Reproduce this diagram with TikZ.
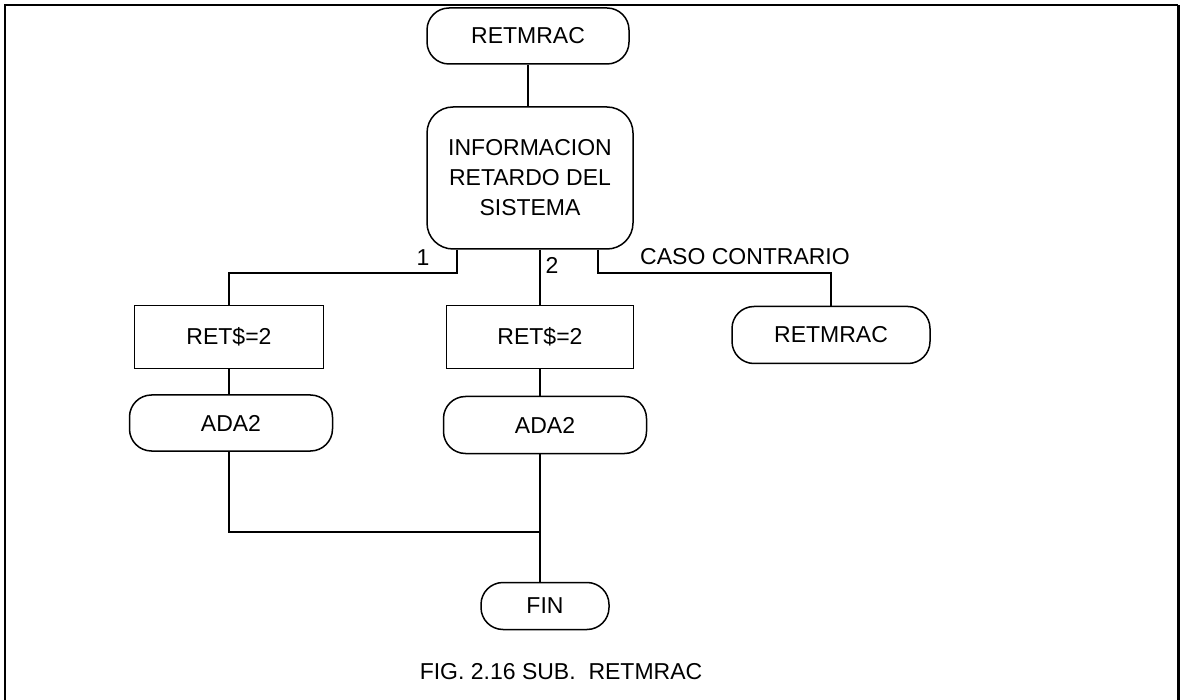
\documentclass[tikz,border=0pt]{standalone}
\usepackage{fontspec}
\setmainfont{Liberation Sans}
\usepackage{tikz}
\usetikzlibrary{positioning,calc}

\begin{document}
\begin{tikzpicture}[x=0.5pt, y=-0.5pt, line width=0.75pt,
  font=\fontsize{11.5}{15}\selectfont,
  term/.style={draw, rounded corners=11pt, align=center, inner sep=0pt},
  proc/.style={draw, align=center, inner sep=0pt},
  line/.style={line width=0.75pt}]
\useasboundingbox (0,0) rectangle (1184,700);

% marco
\draw[line width=0.8pt] (5,700) -- (5,5) -- (1178,5);
\draw[line width=1.5pt] (1178,5) -- (1178,700);

\node[term, minimum width=101pt, minimum height=28pt] (inicio) at (528,36) {RETMRAC};
\node[term, rounded corners=13pt, minimum width=103pt, minimum height=71pt] (info) at (530,178)
  {INFORMACION\\RETARDO DEL\\SISTEMA};

\node[proc, minimum width=94.5pt, minimum height=31.5pt] (ret1) at (229,337) {RET\$=2};
\node[proc, minimum width=93.5pt, minimum height=31.5pt] (ret2) at (540,337) {RET\$=2};
\node[term, minimum width=99pt, minimum height=28.5pt] (otro) at (831,335) {RETMRAC};

\node[term, minimum width=101.5pt, minimum height=28pt] (ada1) at (231,423) {ADA2};
\node[term, minimum width=101.5pt, minimum height=28.5pt] (ada2) at (545,425) {ADA2};
\node[term, minimum width=64pt, minimum height=23.5pt] (fin) at (545,606) {FIN};

\coordinate (b1) at (457,273);
\coordinate (b3) at (598,273);
\coordinate (union) at (540,532);

\draw[line] (inicio.south) -- (inicio.south |- info.north);
\draw[line] (info.south -| b1) -- (b1) -| (ret1.north);
\draw[line] (info.south -| ret2.north) -- (ret2.north);
\draw[line] (info.south -| b3) -- (b3) -| (otro.north);
\draw[line] (ret1.south) -- (ret1.south |- ada1.north);
\draw[line] (ret2.south) -- (ret2.south |- ada2.north);
\draw[line] (ret1.south |- ada1.south) |- (union);
\draw[line] (ada2.south -| union) -- (fin.north -| union);

\node (l1) at (423,258) {1};
\node (l2) at (552,265) {2};
\node (lcaso) at (745,257) {CASO CONTRARIO};

\node (titulo) at (561,672) {FIG. 2.16 SUB.\ \ RETMRAC};
\end{tikzpicture}
\end{document}
